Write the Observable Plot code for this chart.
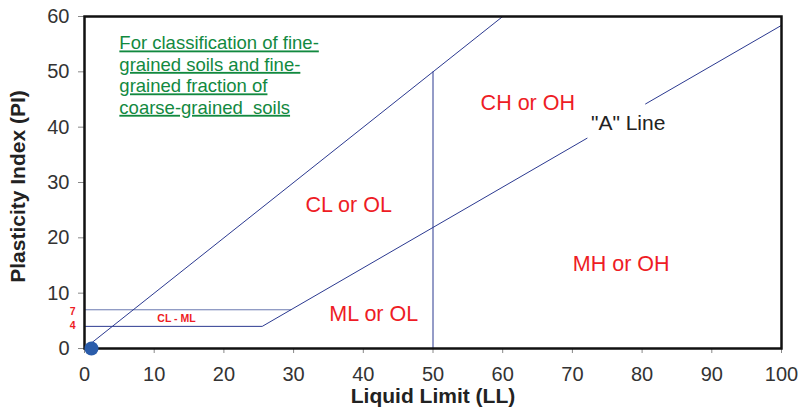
<!DOCTYPE html>
<html><head><meta charset="utf-8">
<script src="https://cdn.jsdelivr.net/npm/d3@7"></script>
<script src="https://cdn.jsdelivr.net/npm/@observablehq/plot@0.6"></script>
<style>body{margin:0;background:#fff} svg{display:block}</style>
</head><body><div id="chart"></div>
<script>
// Axis ticks
const xTicks = [0, 10, 20, 30, 40, 50, 60, 70, 80, 90, 100];
const yTicks = [0, 10, 20, 30, 40, 50, 60];

// Boundary lines (Liquid Limit, Plasticity Index)
const uLineLL = [1, 60];          const uLinePI = [1, 60];
const aLineLL = [0, 25.5, 72.1];  const aLinePI = [4, 4, 38.0];
const aLine2LL = [80.5, 100];     const aLine2PI = [44.2, 58.4];
const line7LL = [0, 29.6];        const line7PI = [7, 7];
const divLL = [50, 50];           const divPI = [0, 50];

// Origin point
const dotLL = [1]; const dotPI = [0];

// Zone labels
const zoneNames = ["CL or OL", "CH or OH", "MH or OH", "ML or OL"];
const zoneLL = [37.9, 63.6, 77, 41.5];
const zonePI = [26.0, 44.3, 15.2, 6.3];

const aLabel = ["\"A\" Line"]; const aLabelLL = [78]; const aLabelPI = [40.7];
const clml = ["CL - ML"]; const clmlLL = [13.2]; const clmlPI = [5.4];
const sideVals = ["7", "4"]; const sideLL = [-1.7, -1.7]; const sidePI = [6.6, 4.1];

const noteLines = ["For classification of fine-", "grained soils and fine-", "grained fraction of", "coarse-grained  soils"];

const lineColor = "#2b3990";
const red = "#ee1c25";
const green = "#12893f";

const seg = (X, Y, opts = {}) => Plot.line(X.map((_, i) => i), {x: i => X[i], y: i => Y[i], stroke: lineColor, strokeWidth: 1, ...opts});

const chart = Plot.plot({
  width: 802, height: 413,
  marginLeft: 84, marginRight: 21, marginTop: 16, marginBottom: 65,
  style: {fontFamily: "'Liberation Sans', Arial, sans-serif", background: "#fff", color: "#333"},
  x: {domain: [0, 100], label: null},
  y: {domain: [0, 60], label: null},
  marks: [
    Plot.axisX(xTicks, {tickSize: 5, tickPadding: 13, fontSize: 20, stroke: "#888", fill: "#333", label: null}),
    Plot.axisY(yTicks, {tickSize: 6, tickPadding: 9, fontSize: 20, stroke: "#888", fill: "#333", label: null}),
    seg(line7LL, line7PI, {stroke: "#6a78b0"}),
    seg(uLineLL, uLinePI),
    seg(aLineLL, aLinePI),
    seg(aLine2LL, aLine2PI),
    seg(divLL, divPI),
    Plot.text(zoneNames, {x: (d, i) => zoneLL[i], y: (d, i) => zonePI[i], text: d => d, fill: red, fontSize: 21.5}),
    Plot.text(aLabel, {x: (d, i) => aLabelLL[i], y: (d, i) => aLabelPI[i], text: d => d, fill: "#222", fontSize: 21}),
    Plot.text(clml, {x: (d, i) => clmlLL[i], y: (d, i) => clmlPI[i], text: d => d, fill: red, fontSize: 10.5, fontWeight: "bold"}),
    Plot.text(sideVals, {x: (d, i) => sideLL[i], y: (d, i) => sidePI[i], text: d => d, fill: red, fontSize: 10.5, fontWeight: "bold"}),
    Plot.text([noteLines.join("\n")], {x: 5, y: 56.8, text: d => d, textAnchor: "start", lineAnchor: "top", lineHeight: 1.16, fill: green, fontSize: 18.5}),
    Plot.text(["Liquid Limit (LL)"], {frameAnchor: "bottom", dy: 48, lineAnchor: "middle", textAnchor: "middle", text: d => d, fontWeight: "bold", fontSize: 21, fill: "#222"}),
    Plot.text(["Plasticity Index (PI)"], {frameAnchor: "left", dx: -66, dy: 4, rotate: -90, textAnchor: "middle", lineAnchor: "middle", text: d => d, fontWeight: "bold", fontSize: 21, fill: "#222"}),
    Plot.frame({stroke: "#111", strokeWidth: 2.5}),
    Plot.dot(dotLL, {x: d => d, y: (d, i) => dotPI[i], r: 7, fill: "#2a5caa", stroke: "none"})
  ]
});
d3.select(chart).selectAll("text").filter(function () {
  const own = this.getAttribute("fill");
  const parent = this.parentNode && this.parentNode.getAttribute && this.parentNode.getAttribute("fill");
  return own === green || parent === green;
}).style("text-decoration", "underline").style("white-space", "pre");
document.getElementById("chart").appendChild(chart);
</script>
</body></html>
